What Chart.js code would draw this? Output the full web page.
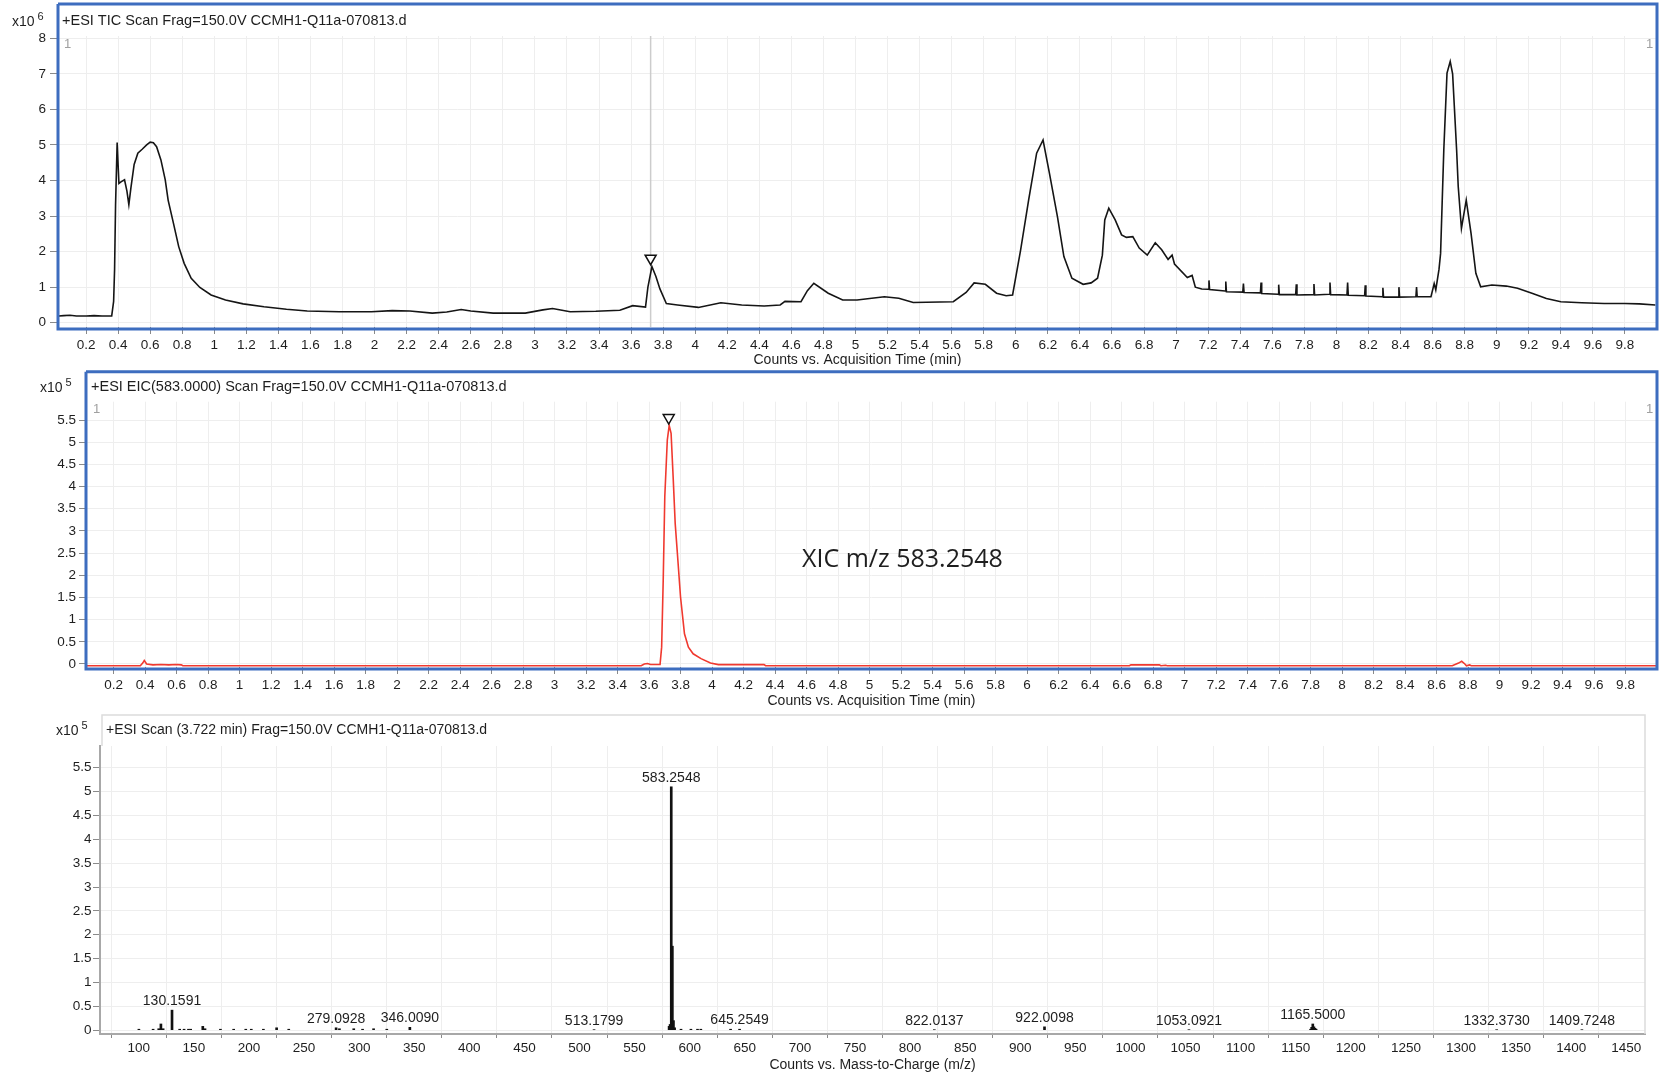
<!DOCTYPE html>
<html>
<head>
<meta charset="utf-8">
<title>TIC / EIC / MS scan</title>
<script src="https://cdn.jsdelivr.net/npm/chart.js@4.4.0/dist/chart.umd.min.js"></script>
<style>
    html, body { margin: 0; padding: 0; background: #fff; }
    body { width: 1662px; height: 1073px; position: relative; overflow: hidden; }
    .panel { position: absolute; left: 0; width: 1662px; }
    .panel canvas { display: block; }
</style>
</head>
<body>
<div class="panel" style="top:0"><canvas id="ticChart" width="1662" height="366"></canvas></div>
<div class="panel" style="top:366px"><canvas id="eicChart" width="1662" height="344"></canvas></div>
<div class="panel" style="top:710px"><canvas id="msChart" width="1662" height="363"></canvas></div>

<script>
// ===================================
// TIC / EIC / MS SCAN - three stacked panels
// ===================================

// ---- TIC (x10^6 counts) ----
const ticTimes = [0.03, 0.06, 0.1, 0.14, 0.2, 0.25, 0.3, 0.36, 0.372, 0.378, 0.384, 0.394, 0.405, 0.42, 0.44, 0.455,
    0.467, 0.48, 0.5, 0.523, 0.55, 0.578, 0.6, 0.62, 0.64, 0.667, 0.694, 0.712, 0.745, 0.778, 0.812, 0.856, 0.91,
    0.98, 1.07, 1.18, 1.31, 1.45, 1.58, 1.78, 1.98, 2.11, 2.22, 2.36, 2.45, 2.54, 2.6, 2.74, 2.94, 3.05, 3.11, 3.22,
    3.38, 3.53, 3.61, 3.69, 3.705, 3.73, 3.755, 3.78, 3.82, 3.89, 4.02, 4.16, 4.29, 4.43, 4.53, 4.56, 4.66, 4.7,
    4.74, 4.83, 4.92, 5.01, 5.18, 5.27, 5.36, 5.61, 5.69, 5.74, 5.81, 5.88, 5.94, 5.98, 6.03, 6.08, 6.13, 6.17,
    6.21, 6.26, 6.3, 6.35, 6.42, 6.47, 6.51, 6.54, 6.555, 6.58, 6.62, 6.66, 6.69, 6.73, 6.77, 6.82, 6.87, 6.91,
    6.95, 6.975, 6.99, 7.07, 7.1, 7.12, 7.16, 7.201, 7.205, 7.209, 7.306, 7.31, 7.314, 7.416, 7.42, 7.424, 7.526, 7.53,
    7.534, 7.636, 7.64, 7.644, 7.746, 7.75, 7.754, 7.856, 7.86, 7.864, 7.956, 7.96, 7.964, 8.066, 8.07, 8.074, 8.176, 8.18,
    8.184, 8.286, 8.29, 8.294, 8.386, 8.39, 8.394, 8.496, 8.5, 8.504, 8.59, 8.61, 8.62, 8.64, 8.65, 8.67, 8.69, 8.71, 8.725,
    8.75, 8.76, 8.78, 8.81, 8.84, 8.87, 8.9, 8.97, 9.06, 9.13, 9.22, 9.31, 9.4, 9.53, 9.67, 9.8, 9.89, 9.99];
const ticCounts = [0.19, 0.2, 0.21, 0.19, 0.19, 0.2, 0.19, 0.19, 0.6, 1.5, 3.3, 5.07, 3.92, 3.97, 4.02, 3.7,
    3.32, 3.8, 4.45, 4.77, 4.88, 5.0, 5.08, 5.06, 4.95, 4.58, 4.02, 3.45, 2.8, 2.14, 1.67, 1.25, 0.99,
    0.78, 0.64, 0.53, 0.45, 0.38, 0.33, 0.31, 0.31, 0.34, 0.33, 0.27, 0.3, 0.37, 0.33, 0.27, 0.27, 0.36, 0.4, 0.31,
    0.32, 0.35, 0.48, 0.44, 1.0, 1.58, 1.3, 0.95, 0.54, 0.5, 0.43, 0.56, 0.5, 0.47, 0.5, 0.6, 0.59, 0.9,
    1.11, 0.83, 0.64, 0.64, 0.73, 0.69, 0.57, 0.59, 0.85, 1.12, 1.08, 0.83, 0.76, 0.78, 2.04, 3.45, 4.77, 5.14,
    4.2, 2.98, 1.86, 1.25, 1.08, 1.12, 1.25, 1.9, 2.89, 3.22, 2.89, 2.47, 2.4, 2.42, 2.1, 1.9, 2.25, 2.05,
    1.78, 1.9, 1.65, 1.27, 1.33, 1.0, 0.95, 0.94, 1.19, 0.93, 0.89, 1.16, 0.87, 0.86, 1.1, 0.85, 0.84, 1.13,
    0.82, 0.8, 1.07, 0.79, 0.79, 1.08, 0.78, 0.79, 1.09, 0.78, 0.8, 1.13, 0.79, 0.78, 1.13, 0.77, 0.76, 1.05,
    0.75, 0.73, 0.98, 0.72, 0.72, 1.0, 0.72, 0.73, 1.0, 0.73, 0.73, 1.1, 0.92, 1.5, 1.95, 4.86, 7.02, 7.35, 7.0,
    4.86, 3.83, 2.65, 3.45, 2.51, 1.39, 1.01, 1.06, 1.03, 0.97, 0.83, 0.68, 0.59, 0.56, 0.54, 0.54, 0.53, 0.5];

// ---- EIC 583.0000 (x10^5 counts) ----
const eicTimes = [0.025, 0.37, 0.385, 0.395, 0.41, 0.45, 0.5, 0.55, 0.6, 0.63, 0.64, 3.55, 3.57, 3.59, 3.61, 3.67,
    3.68, 3.69, 3.7, 3.716, 3.728, 3.74, 3.754, 3.766, 3.78, 3.8, 3.825, 3.85, 3.88, 3.93, 3.99, 4.04, 4.33, 4.34,
    6.65, 6.66, 6.84, 6.85, 6.88, 6.89, 8.7, 8.74, 8.76, 8.78, 8.79, 8.81, 8.82, 10.0];
const eicCounts = [-0.04, -0.04, 0.02, 0.08, 0.0, -0.02, -0.01, -0.02, -0.01, -0.02, -0.04, -0.04, 0.0, 0.01, -0.01, -0.01,
    0.38, 1.89, 3.77, 5.05, 5.38, 5.2, 4.14, 3.17, 2.49, 1.51, 0.68, 0.38, 0.23, 0.12, 0.02, -0.015, -0.015, -0.04,
    -0.04, -0.02, -0.02, -0.04, -0.03, -0.04, -0.04, 0.02, 0.06, 0.0, -0.04, -0.02, -0.04, -0.04];

// ---- MS scan at 3.722 min (x10^5 counts) ----
const msMz = [100.1, 113.0, 118.1, 120.08, 122.1, 130.1591, 137.1, 141.1, 145.1, 147.1, 158.09, 160.1, 174.1, 186.1,
    197.1, 202.1, 213.1, 225.1, 236.1, 279.0928, 282.1, 295.1, 303.1, 313.1, 325.1, 346.009, 513.1799, 581.3, 582.2,
    583.2548, 584.26, 585.26, 586.3, 592.1, 601.1, 607.1, 610.1, 637.1, 645.2549, 822.0137, 922.0098, 1053.0921,
    1163.5, 1164.5, 1165.5, 1166.5, 1167.5, 1168.5, 1332.373, 1409.7248];
const msAbund = [0.02, 0.02, 0.03, 0.13, 0.03, 0.42, 0.02, 0.02, 0.02, 0.02, 0.08, 0.03, 0.02, 0.02,
    0.02, 0.02, 0.02, 0.05, 0.02, 0.05, 0.03, 0.03, 0.02, 0.03, 0.02, 0.06, 0.01, 0.08, 0.12,
    5.1, 1.76, 0.2, 0.05, 0.02, 0.02, 0.02, 0.02, 0.02, 0.02, 0.01, 0.07, 0.01,
    0.02, 0.06, 0.13, 0.07, 0.04, 0.02, 0.01, 0.01];
const peakLabels = ['130.1591', '279.0928', '346.0090', '513.1799', '583.2548', '645.2549', '822.0137',
    '922.0098', '1053.0921', '1165.5000', '1332.3730', '1409.7248'];

// ---- markers (apex of the selected peak) ----
const ticMarker = [3.722, 1.76];
const eicMarker = [3.725, 5.51];

// ---- tick labels ----
const timeTicks = [0.2, 0.4, 0.6, 0.8, 1, 1.2, 1.4, 1.6, 1.8, 2, 2.2, 2.4, 2.6, 2.8, 3, 3.2, 3.4, 3.6, 3.8, 4,
    4.2, 4.4, 4.6, 4.8, 5, 5.2, 5.4, 5.6, 5.8, 6, 6.2, 6.4, 6.6, 6.8, 7, 7.2, 7.4, 7.6, 7.8, 8,
    8.2, 8.4, 8.6, 8.8, 9, 9.2, 9.4, 9.6, 9.8];
const ticYTicks = [0, 1, 2, 3, 4, 5, 6, 7, 8];
const eicYTicks = [0, 0.5, 1, 1.5, 2, 2.5, 3, 3.5, 4, 4.5, 5, 5.5];
const msYTicks = [0, 0.5, 1, 1.5, 2, 2.5, 3, 3.5, 4, 4.5, 5, 5.5];
const mzTicks = [100, 150, 200, 250, 300, 350, 400, 450, 500, 550, 600, 650, 700, 750, 800, 850, 900, 950,
    1000, 1050, 1100, 1150, 1200, 1250, 1300, 1350, 1400, 1450];

const FONT = '"Liberation Sans", Arial, Helvetica, sans-serif';
const BLUE = '#3d6dbf';

Chart.defaults.font.family = FONT;
Chart.defaults.font.size = 13;
Chart.defaults.color = '#1e1e1e';

function toPoints(xs, ys) {
    return xs.map((x, i) => ({ x: x, y: ys[i] }));
}

function fmtTick(v) {
    return String(Math.round(v * 100) / 100);
}

// Linear axis with fixed tick list and fixed box size
function makeAxis(min, max, tickList, size, tickLen, pad, isX, showBorder) {
    return {
        type: 'linear',
        min: min,
        max: max,
        offset: false,
        afterBuildTicks: function(scale) {
            scale.ticks = tickList.map(v => ({ value: v }));
        },
        afterFit: function(scale) {
            if (isX) scale.height = size; else scale.width = size;
        },
        ticks: {
            autoSkip: false,
            maxRotation: 0,
            minRotation: 0,
            padding: pad,
            font: { size: 13.5 },
            color: '#1e1e1e',
            callback: function(value) { return fmtTick(value); }
        },
        grid: {
            color: '#eeeeee',
            lineWidth: 1,
            tickColor: '#8a8a8a',
            tickLength: tickLen,
            drawTicks: true
        },
        border: {
            display: showBorder,
            color: '#a8a8a8',
            width: 2
        }
    };
}

function drawTriangle(ctx, x, y) {
    ctx.beginPath();
    ctx.moveTo(x - 5.5, y - 5);
    ctx.lineTo(x + 5.5, y - 5);
    ctx.lineTo(x, y + 4.5);
    ctx.closePath();
    ctx.fillStyle = '#fff';
    ctx.fill();
    ctx.lineWidth = 1.5;
    ctx.strokeStyle = '#111';
    ctx.stroke();
}

// Draws frame, titles, exponent, axis title, cursor, markers and peak labels
const panelDecor = {
    id: 'panelDecor',
    beforeDatasetsDraw(chart, args, o) {
        if (o.cursor === undefined || o.cursor === null) return;
        const ctx = chart.ctx;
        const a = chart.chartArea;
        const x = chart.scales.x.getPixelForValue(o.cursor);
        ctx.save();
        ctx.strokeStyle = '#cccccc';
        ctx.lineWidth = 1.5;
        ctx.beginPath();
        ctx.moveTo(x, a.top);
        ctx.lineTo(x, a.bottom);
        ctx.stroke();
        ctx.restore();
    },
    afterDraw(chart, args, o) {
        const ctx = chart.ctx;
        const a = chart.chartArea;
        const sx = chart.scales.x;
        const sy = chart.scales.y;
        ctx.save();

        // frame
        if (o.frame) {
            ctx.strokeStyle = o.frame.color;
            ctx.lineWidth = o.frame.width;
            o.frame.lines.forEach(line => {
                ctx.beginPath();
                line.forEach((p, i) => i ? ctx.lineTo(p[0], p[1]) : ctx.moveTo(p[0], p[1]));
                ctx.stroke();
            });
        }

        // exponent "x10^n"
        ctx.fillStyle = '#1e1e1e';
        ctx.textBaseline = 'alphabetic';
        ctx.textAlign = 'left';
        ctx.font = '14px ' + FONT;
        ctx.fillText('x10', o.expo.x, o.expo.y);
        const w = ctx.measureText('x10').width;
        ctx.font = '11px ' + FONT;
        ctx.fillText(o.expo.pow, o.expo.x + w + 3, o.expo.y - 6);

        // panel title
        ctx.font = o.title.size + 'px ' + FONT;
        ctx.textBaseline = 'middle';
        ctx.fillText(o.title.text, o.title.x, o.title.y);

        // "1" in the corners
        if (o.corners) {
            ctx.font = '13px ' + FONT;
            ctx.fillStyle = '#a0a0a0';
            o.corners.forEach(c => ctx.fillText('1', c[0], c[1]));
        }

        // axis title
        ctx.fillStyle = '#1e1e1e';
        ctx.font = '14px ' + FONT;
        ctx.textAlign = 'center';
        ctx.fillText(o.axisTitle.text, (a.left + a.right) / 2, o.axisTitle.y);

        // peak markers
        if (o.marker) {
            drawTriangle(ctx, sx.getPixelForValue(o.marker[0]), sy.getPixelForValue(o.marker[1]));
        }

        // free text note
        if (o.note) {
            ctx.fillStyle = '#1e1e1e';
            ctx.textAlign = 'left';
            ctx.font = o.note.size + 'px "Open Sans", Lato, sans-serif';
            ctx.fillText(o.note.text, o.note.x, o.note.y, o.note.maxWidth);
        }

        // m/z labels above peaks
        if (o.peakLabels) {
            ctx.fillStyle = '#1e1e1e';
            ctx.textAlign = 'center';
            ctx.textBaseline = 'alphabetic';
            ctx.font = '14px ' + FONT;
            peakLabels.forEach(lbl => {
                const mz = parseFloat(lbl);
                let best = 0;
                msMz.forEach((m, i) => {
                    if (Math.abs(m - mz) < Math.abs(msMz[best] - mz)) best = i;
                });
                const px = sx.getPixelForValue(mz);
                const py = sy.getPixelForValue(msAbund[best]);
                ctx.fillText(lbl, px, py - 5);
            });
        }
        ctx.restore();
    }
};

// ---- Panel 1: TIC ----
new Chart(document.getElementById('ticChart'), {
    type: 'scatter',
    data: {
        datasets: [{
            data: toPoints(ticTimes, ticCounts),
            showLine: true,
            borderColor: '#151515',
            borderWidth: 1.6,
            pointRadius: 0,
            tension: 0
        }]
    },
    options: {
        responsive: false,
        animation: false,
        layout: { padding: { top: 36, right: 5, left: 0, bottom: 0 } },
        scales: {
            x: makeAxis(0.025, 10.0, timeTicks, 39, 7, 3.5, true, false),
            y: makeAxis(-0.121, 8.065, ticYTicks, 58, 8, 4, false, false)
        },
        plugins: {
            legend: { display: false },
            tooltip: { enabled: false },
            panelDecor: {
                frame: { color: BLUE, width: 3, lines: [[[58, 4], [1657, 4], [1657, 329], [58, 329], [58, 4]]] },
                expo: { x: 12, y: 26, pow: '6' },
                title: { text: '+ESI TIC Scan Frag=150.0V CCMH1-Q11a-070813.d', x: 62, y: 21, size: 14.5 },
                corners: [[64, 44], [1646, 44]],
                axisTitle: { text: 'Counts vs. Acquisition Time (min)', y: 360 },
                cursor: ticMarker[0],
                marker: ticMarker
            }
        }
    },
    plugins: [panelDecor]
});

// ---- Panel 2: EIC ----
new Chart(document.getElementById('eicChart'), {
    type: 'scatter',
    data: {
        datasets: [{
            data: toPoints(eicTimes, eicCounts),
            showLine: true,
            borderColor: '#f0392f',
            borderWidth: 1.6,
            pointRadius: 0,
            tension: 0
        }]
    },
    options: {
        responsive: false,
        animation: false,
        layout: { padding: { top: 35.7, right: 5, left: 0, bottom: 0 } },
        scales: {
            x: makeAxis(0.025, 10.0, timeTicks, 43, 7, 3.5, true, false),
            y: makeAxis(-0.068, 5.913, eicYTicks, 86, 7, 3, false, false)
        },
        plugins: {
            legend: { display: false },
            tooltip: { enabled: false },
            panelDecor: {
                frame: { color: BLUE, width: 3, lines: [[[86, 5.7], [1657, 5.7], [1657, 303], [86, 303], [86, 5.7]]] },
                expo: { x: 40, y: 26, pow: '5' },
                title: { text: '+ESI EIC(583.0000) Scan Frag=150.0V CCMH1-Q11a-070813.d', x: 91, y: 21, size: 14.5 },
                corners: [[93, 43], [1646, 43]],
                axisTitle: { text: 'Counts vs. Acquisition Time (min)', y: 335 },
                marker: eicMarker,
                note: { text: 'XIC m/z 583.2548', x: 802, y: 194, size: 25, maxWidth: 201 }
            }
        }
    },
    plugins: [panelDecor]
});

// ---- Panel 3: MS scan ----
new Chart(document.getElementById('msChart'), {
    type: 'bar',
    data: {
        datasets: [{
            data: toPoints(msMz, msAbund),
            backgroundColor: '#111111',
            borderWidth: 0,
            barThickness: 2
        }]
    },
    options: {
        responsive: false,
        animation: false,
        layout: { padding: { top: 36, right: 17, left: 0, bottom: 0 } },
        scales: {
            x: makeAxis(64.8, 1467, mzTicks, 39, 4, 2.5, true, true),
            y: makeAxis(-0.08, 5.955, msYTicks, 100, 7, 1.5, false, true)
        },
        plugins: {
            legend: { display: false },
            tooltip: { enabled: false },
            panelDecor: {
                frame: { color: '#dcdcdc', width: 1.5, lines: [[[102, 36], [102, 5], [1645, 5], [1645, 324]]] },
                expo: { x: 56, y: 25, pow: '5' },
                title: { text: '+ESI Scan (3.722 min) Frag=150.0V CCMH1-Q11a-070813.d', x: 106, y: 20, size: 14 },
                axisTitle: { text: 'Counts vs. Mass-to-Charge (m/z)', y: 355 },
                peakLabels: true
            }
        }
    },
    plugins: [panelDecor]
});
</script>
</body>
</html>
